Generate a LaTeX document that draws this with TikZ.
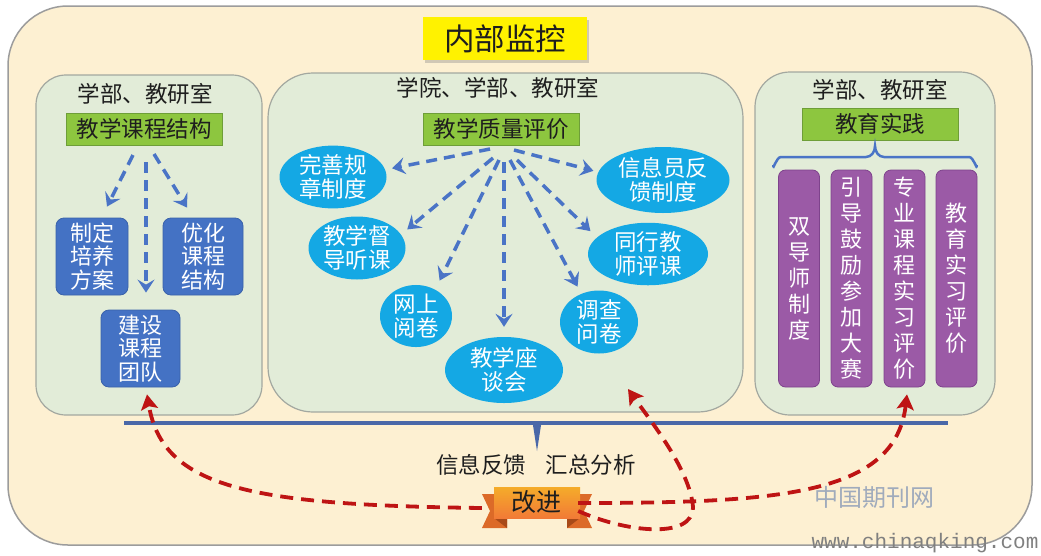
\documentclass[tikz,border=0pt]{standalone}
\usepackage{fontspec}
\setmainfont{Noto Sans CJK SC}
\newfontfamily\wmmono{Liberation Mono}
\usetikzlibrary{arrows.meta,shadows,shapes.geometric,calc}
\definecolor{cream}{HTML}{FDF0D2}
\definecolor{frameborder}{HTML}{9C9C9C}
\definecolor{panelfill}{HTML}{E2ECD8}
\definecolor{panelborder}{HTML}{A3A8A0}
\definecolor{gfill}{HTML}{8DC63F}
\definecolor{gborder}{HTML}{6E9E38}
\definecolor{bfill}{HTML}{4472C4}
\definecolor{bborder}{HTML}{3A62AA}
\definecolor{cyanfill}{HTML}{14A8E4}
\definecolor{purp}{HTML}{9B5AA6}
\definecolor{purpborder}{HTML}{7E438C}
\definecolor{arrowblue}{HTML}{4A74C6}
\definecolor{darkred}{HTML}{BE1414}
\definecolor{lineblue}{HTML}{4A68A8}
\definecolor{textdark}{HTML}{1E1E1E}
\definecolor{orangefront}{HTML}{F0883C}
\definecolor{orangeback}{HTML}{DC6A28}
\definecolor{orangefold}{HTML}{A84A18}
\definecolor{wmgray}{HTML}{A0ABBC}
\begin{document}
\begin{tikzpicture}[x=1pt,y=-1pt,
  panel/.style={draw=panelborder, line width=1.2pt, fill=panelfill, inner sep=0pt},
  hdr/.style={font=\fontsize{22.5}{25}\selectfont, text=textdark, inner sep=0pt},
  gbox/.style={draw=gborder, line width=1pt, fill=gfill, minimum width=156pt, minimum height=32pt, inner sep=0pt, font=\fontsize{22.5}{25}\selectfont, text=textdark},
  bbox/.style={fill=bfill, draw=bborder, line width=0.8pt, rounded corners=8pt, text=white, align=center, font=\fontsize{22}{23.5}\selectfont, minimum height=77pt, inner sep=0pt},
  ell/.style={ellipse, fill=cyanfill, text=white, align=center, inner sep=0pt, font=\fontsize{22.5}{23.5}\selectfont},
  pbox/.style={fill=purp, draw=purpborder, line width=0.8pt, rounded corners=7pt, minimum width=41pt, minimum height=217pt, text=white, align=center, font=\fontsize{22}{26}\selectfont, inner sep=0pt},
  barrow/.style={draw=arrowblue, line width=3.5pt, dash pattern=on 11pt off 7pt, -{Stealth[length=13pt,width=17pt,inset=5pt]}},
  rarrow/.style={draw=darkred, line width=3.8pt, dash pattern=on 13pt off 8pt, -{Stealth[length=15pt,width=17pt,inset=3pt]}}
]
\useasboundingbox (0,0) rectangle (1041,555);
\fill[white] (0,0) rectangle (1041,555);

% outer frame
\node[draw=frameborder, line width=1.5pt, fill=cream, rounded corners=60pt, minimum width=1024pt, minimum height=539pt, inner sep=0pt] (outer) at (520,275.5) {};

% title
\node[fill=yellow, minimum width=164pt, minimum height=43pt, inner sep=0pt, font=\fontsize{30.5}{32}\selectfont, text=textdark,
  drop shadow={shadow xshift=1.5pt, shadow yshift=-3pt, opacity=0.35}] (title) at (505,38.5) {内部监控};

% panels
\node[panel, rounded corners=30pt, minimum width=226pt, minimum height=340pt] (pl) at (149,245) {};
\node[panel, rounded corners=45pt, minimum width=475pt, minimum height=339pt] (pm) at (505.5,242.5) {};
\node[panel, rounded corners=35pt, minimum width=240pt, minimum height=343pt] (pr) at (875,243.5) {};

% headers
\node[hdr] (hl) at (145,94) {学部、教研室};
\node[hdr] (hm) at (498,88) {学院、学部、教研室};
\node[hdr] (hr) at (880,90) {学部、教研室};

% green boxes
\node[gbox] (g1) at (144,129) {教学课程结构};
\node[gbox] (g2) at (501,129) {教学质量评价};
\node[gbox] (g3) at (880,124) {教育实践};

% left panel blue boxes
\node[bbox, minimum width=72pt] (b1) at (92,256.5) {制定\\培养\\方案};
\node[bbox, minimum width=80pt] (b2) at (203,256.5) {优化\\课程\\结构};
\node[bbox, minimum width=79pt] (b3) at (140.5,348.5) {建设\\课程\\团队};

\coordinate (l1) at (133,155);
\coordinate (l2) at (146,162);
\coordinate (l3) at (154,154);
\draw[barrow] (l1) -- ([xshift=15pt,yshift=11pt]b1.north);
\draw[barrow] (l2) -- ([xshift=5.5pt,yshift=17pt]b3.north);
\draw[barrow] (l3) -- ([xshift=-16pt,yshift=10pt]b2.north);

% middle panel ellipses
\node[ell, minimum width=107pt, minimum height=62pt] (e1) at (333,177) {完善规\\章制度};
\node[ell, minimum width=133pt, minimum height=66pt] (e2) at (663,180) {信息员反\\馈制度};
\node[ell, minimum width=97pt, minimum height=63pt] (e3) at (357,248) {教学督\\导听课};
\node[ell, minimum width=120pt, minimum height=62pt] (e4) at (648,254) {同行教\\师评课};
\node[ell, minimum width=72pt, minimum height=58pt] (e5) at (416,316) {网上\\阅卷};
\node[ell, minimum width=78pt, minimum height=63pt] (e6) at (599,322) {调查\\问卷};
\node[ell, minimum width=118pt, minimum height=66pt] (e7) at (504,370) {教学座\\谈会};

\coordinate (s1) at (490,149);
\coordinate (s2) at (514,150);
\coordinate (s3) at (493,158);
\coordinate (s4) at (517,160);
\coordinate (s5) at (499,160);
\coordinate (s6) at (510,160);
\coordinate (s7) at (504,162);
\draw[barrow, shorten >=7pt] (s1) -- (e1.8);
\draw[barrow, shorten >=5pt] (s2) -- (e2.173);
\draw[barrow, shorten >=8pt] (s3) -- (e3.17);
\draw[barrow, shorten >=9pt] (s4) -- (e4.162);
\draw[barrow, shorten >=10pt] (s5) -- (e5.54);
\draw[barrow, shorten >=8pt] (s6) -- (e6.122);
\draw[barrow, shorten >=10pt] (s7) -- (e7.north);

% right panel brace and purple boxes
\draw[draw=arrowblue, line width=2.5pt, line cap=round]
  (773,166) to[out=-90,in=180] (781,157) -- (866,157) to[out=0,in=-90] (875,146)
  to[out=-90,in=180] (884,157) -- (969,157) to[out=0,in=-90] (977,166);
\node[pbox] (p1) at (799,278.5) {双\\导\\师\\制\\度};
\node[pbox] (p2) at (851.5,278.5) {引\\导\\鼓\\励\\参\\加\\大\\赛};
\node[pbox] (p3) at (904.5,278.5) {专\\业\\课\\程\\实\\习\\评\\价};
\node[pbox] (p4) at (956.5,278.5) {教\\育\\实\\习\\评\\价};

% feedback line
\draw[draw=lineblue, line width=3.5pt] (124,423) coordinate (fl) -- (948,423) coordinate (fr);
\fill[lineblue] (532.5,422) -- (541.5,422) -- (537,451) -- cycle;
\node[font=\fontsize{22.5}{25}\selectfont, text=textdark, inner sep=0pt] (info) at (536,465) {信息反馈\hspace{0.85em}汇总分析};

% banner
\fill[orangeback] (482,494) -- (507,494) -- (507,528) -- (482,528) -- (490,511) -- cycle;
\fill[orangeback] (592,494) -- (567,494) -- (567,528) -- (592,528) -- (584,511) -- cycle;
\fill[orangefold] (494,518) -- (507,518) -- (507,528) -- cycle;
\fill[orangefold] (580,518) -- (567,518) -- (567,528) -- cycle;
\shade[top color=orangefront!70!yellow, bottom color=orangefront!90!red] (494,487) rectangle (580,518);
\node[minimum width=110pt, minimum height=42pt, inner sep=0pt] (ban) at (537,508) {};
\node[font=\fontsize{25}{27}\selectfont, text=textdark, inner sep=0pt] (imp) at (536,502) {改进};

% red improvement arrows
\coordinate (fb) at (628,389);
\draw[rarrow] (ban.west) .. controls (250,505) and (163,488) .. ([xshift=6.5pt,yshift=-7pt]b3.south);
\draw[rarrow] ([xshift=-14pt,yshift=5pt]ban.east) .. controls (780,503) and (895,495) .. ([xshift=2.5pt,yshift=-7pt]p3.south);
\draw[rarrow] ([xshift=-14pt,yshift=-3pt]ban.east) .. controls (625,532) and (693,540) .. (693,507)
  .. controls (690,470) and (650,420) .. (fb);

% watermark
\node[font=\fontsize{24}{26}\selectfont, text=wmgray, inner sep=0pt] (wm1) at (874,497) {中国期刊网};
\node[font=\wmmono\fontsize{21}{23}\selectfont, text=gray, inner sep=0pt] (wm2) at (925,543) {www.chinaqking.com};
\end{tikzpicture}
\end{document}
